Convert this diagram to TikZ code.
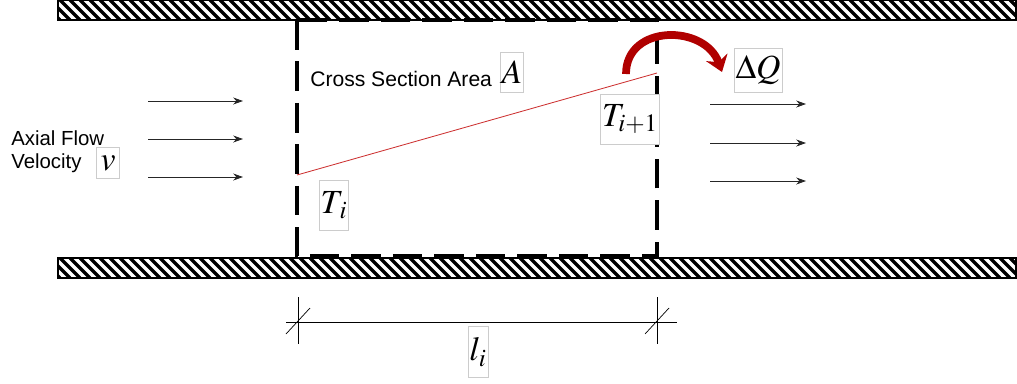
\documentclass[tikz,border=0pt]{standalone}
\usepackage{mathptmx}
\usepackage{fontspec}
\setsansfont{Liberation Sans}
\usetikzlibrary{arrows.meta}
\definecolor{heatred}{RGB}{176,0,0}
\definecolor{tline}{RGB}{205,50,50}
\tikzstyle{lab} = [draw=black!20, line width=0.4pt, inner xsep=1pt, inner ysep=0pt, fill=white, minimum height=1.25cm, font=\fontsize{24}{28}\selectfont]
\tikzstyle{txt} = [font=\sffamily\fontsize{14.5}{17}\selectfont, inner sep=0pt]
\tikzstyle{flow} = [-{Stealth[length=7pt,width=5pt]}, line width=0.6pt, black!85]
\tikzstyle{cv} = [dash pattern=on 21pt off 8.5pt, line width=3pt]
\tikzstyle{heat} = [heatred, line width=5.5pt, -{Stealth[length=11pt,width=16pt]}]

\begin{document}
\begin{tikzpicture}[x=0.025cm, y=-0.025cm]
\useasboundingbox (0,0) rectangle (1017,383);

\foreach \t in {0,258} {
  \begin{scope}
    \clip (58,\t) rectangle (1016,\t+20);
    \foreach \x in {30,40,...,1020}
      \draw[line width=2.4pt] (\x,\t) -- (\x+20,\t+20);
  \end{scope}
  \draw[line width=1.2pt] (58,\t) rectangle (1016,\t+20);
}

\coordinate (cvtl) at (297,20);
\coordinate (cvbr) at (657,256);
\draw[cv] (cvtl) rectangle (cvbr);

\coordinate (ti) at (297,175);
\coordinate (tj) at (657,73);
\draw[tline, line width=0.6pt] (ti) -- (tj);

\foreach \y in {101,139,177} {
  \path (148,\y) coordinate (fs) (243,\y) coordinate (fe);
  \draw[flow] (fs) -- (fe);
}
\foreach \y in {104,143,181} {
  \path (710,\y) coordinate (fs) (806,\y) coordinate (fe);
  \draw[flow] (fs) -- (fe);
}

\node[txt, anchor=base west] (axial) at (11,145) {Axial Flow};
\node[txt, anchor=base west] (velo) at (11,168) {Velocity};
\node[lab, minimum height=0.78cm, minimum width=0.57cm] (vel) at (108,163) {$v$};
\node[txt, anchor=base west, font=\sffamily\fontsize{15}{18}\selectfont] (cs) at (310,86) {Cross Section Area};
\node[lab, minimum height=1.0cm] (area) at (512,72) {$A$};
\node[lab] (Ti) at (334,205) {$T_{\,i}$};
\node[lab] (Tj) at (630,119) {$T_{i+1}$};
\node[lab, minimum height=1.1cm] (dq) at (758,70) {$\Delta Q$};

\coordinate (q0) at (626,74);
\coordinate (q1) at (722,72);
\draw[heat] (q0) .. controls (626,24) and (705,24) .. (q1);

\coordinate (d1) at (298,322);
\coordinate (d2) at (657,322);
\coordinate (dl) at (286,322);
\coordinate (dr) at (677,322);
\draw[line width=0.5pt] (dl) -- (dr);
\foreach \c in {d1,d2} {
  \draw[line width=0.5pt] (\c) +(0,-25) -- +(0,22);
  \draw[line width=0.5pt] (\c) +(-12,12) -- +(12,-14);
}
\node[lab, minimum height=1.27cm] (li) at (478,352) {$l_i$};
\end{tikzpicture}
\end{document}
